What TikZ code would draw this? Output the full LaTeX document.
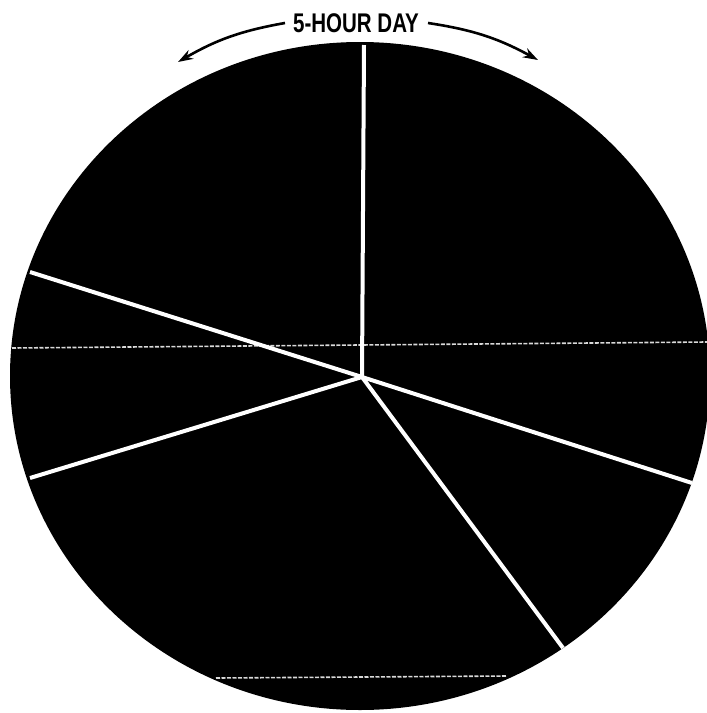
\documentclass[tikz,border=0pt]{standalone}
\usepackage{fontspec}
\newfontfamily\labfont[FakeStretch=0.76]{Liberation Sans}
\usetikzlibrary{arrows.meta}
\begin{document}
\begin{tikzpicture}[x=1pt,y=-1pt,
  spoke/.style={draw=white,line width=4pt},
  scan/.style={draw=white!85!black,line width=1.6pt,dash pattern=on 4pt off 1.5pt},
  dayarrow/.style={draw=black,line width=2.6pt,-{Stealth[length=15pt,width=10pt]}},
  lab/.style={font=\labfont\bfseries\fontsize{27}{27}\selectfont,inner sep=0pt}]
\useasboundingbox (0,0) rectangle (707,713);
\fill[black] (360,376) ellipse[x radius=350,y radius=334];
\node[lab] (title) at (356,23) {5-HOUR DAY};
\coordinate (c) at (362,377);
\coordinate (e1) at (364,45);
\coordinate (e2) at (30,272);
\coordinate (e3) at (30,478);
\coordinate (e4) at (563,648);
\coordinate (e5) at (692,483);
\coordinate (s1) at (12,348);
\coordinate (s2) at (707,342);
\coordinate (s3) at (216,678);
\coordinate (s4) at (506,676);
\coordinate (la) at (285,23);
\coordinate (lb) at (178,62);
\coordinate (ra) at (428,23);
\coordinate (rb) at (538,60);
\draw[scan] (s1) -- (s2);
\draw[scan] (s3) -- (s4);
\foreach \e in {e1,e2,e3,e4,e5} \draw[spoke] (c) -- (\e);
\draw[dayarrow] (la) to[bend right=10] (lb);
\draw[dayarrow] (ra) to[bend left=10] (rb);
\end{tikzpicture}
\end{document}
